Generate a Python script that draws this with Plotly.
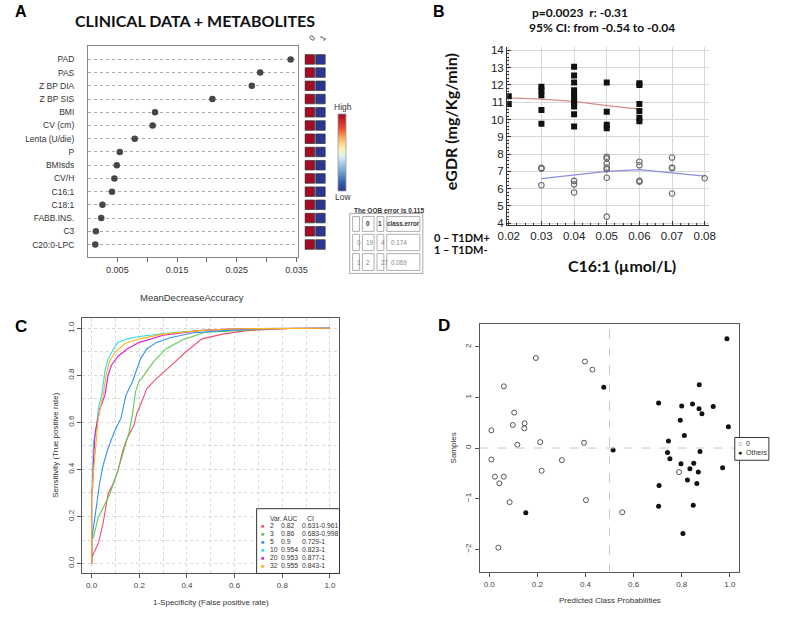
import plotly.graph_objects as go

W, H = 794, 617
def px(x): return x / W
def py(y): return 1 - y / H

# ---------------- Panel A data ----------------
features = ["PAD", "PAS", "Z BP DIA", "Z BP SIS", "BMI", "CV (cm)", "Lenta (U/die)", "P",
            "BMIsds", "CV/H", "C16:1", "C18:1", "FABB.INS.", "C3", "C20:0-LPC"]
mean_decrease_acc = [0.0340, 0.0289, 0.0275, 0.0209, 0.0113, 0.0109, 0.0079, 0.0054,
                     0.0049, 0.0045, 0.0041, 0.0025, 0.0023, 0.0014, 0.0013]
class_labels = ["0", "1"]
heat_class0 = [1, 1, 1, 1, 1, 1, 1, 1, 1, 1, 1, 1, 1, 1, 1]
heat_class1 = [0, 0, 0, 0, 0, 0, 0, 0, 0, 0, 0, 0, 0, 0, 0]
a_xticks = [0.005, 0.010, 0.015, 0.020, 0.025, 0.030, 0.035]
a_xticklabels = ["0.005", "", "0.015", "", "0.025", "", "0.035"]
oob_error = "0.115"
conf_header = ["", "0", "1", "class.error"]
conf_rows = [["0", "19", "4", "0.174"], ["1", "2", "27", "0.069"]]

# ---------------- Panel B data ----------------
sq_x = [0.02, 0.02,
        0.03, 0.03, 0.03, 0.03, 0.03,
        0.04, 0.04, 0.04, 0.04, 0.04, 0.04, 0.04, 0.04, 0.04, 0.04, 0.04,
        0.05, 0.05, 0.05, 0.05,
        0.06, 0.06, 0.06, 0.06, 0.06, 0.06]
sq_y = [11.35, 10.9,
        11.9, 11.7, 11.4, 10.55, 9.75,
        13.05, 12.55, 12.15, 11.7, 11.5, 11.3, 11.1, 10.95, 10.75, 10.3, 9.6,
        12.15, 10.45, 9.7, 9.5,
        12.1, 12.0, 10.9, 10.5, 10.1, 9.9]
ci_x = [0.03, 0.03, 0.03,
        0.04, 0.04, 0.04,
        0.05, 0.05, 0.05, 0.05, 0.05, 0.05, 0.05,
        0.06, 0.06, 0.06, 0.06,
        0.07, 0.07, 0.07, 0.07,
        0.08]
ci_y = [7.2, 7.15, 6.2,
        6.45, 6.25, 5.78,
        7.85, 7.75, 7.45, 7.22, 7.12, 6.63, 4.38,
        7.56, 7.35, 6.45, 6.4,
        7.8, 7.22, 7.18, 5.72,
        6.6]
red_fit_x = [0.02, 0.03, 0.04, 0.05, 0.06]
red_fit_y = [11.25, 11.18, 11.05, 10.8, 10.6]
blue_fit_x = [0.03, 0.04, 0.05, 0.06, 0.07, 0.08]
blue_fit_y = [6.58, 6.8, 7.0, 7.1, 6.9, 6.72]
b_xticks = [0.02, 0.03, 0.04, 0.05, 0.06, 0.07, 0.08]
b_yticks = [4, 5, 6, 7, 8, 9, 10, 11, 12, 13, 14]

# ---------------- Panel C data ----------------
roc_vars = ["2", "3", "5", "10", "20", "32"]
roc_auc = ["0.82", "0.86", "0.9", "0.954", "0.953", "0.955"]
roc_ci = ["0.631-0.961", "0.683-0.998", "0.729-1", "0.823-1", "0.877-1", "0.843-1"]
roc_colors = ["#F0506E", "#62C955", "#3090F0", "#30DCE8", "#D81CCF", "#FFB21E"]
roc_fpr = [
    [0, 0.0, 0.008, 0.028, 0.049, 0.069, 0.09, 0.11, 0.13, 0.144, 0.158, 0.178, 0.19, 0.205, 0.232, 0.273, 0.327, 0.395, 0.463, 0.55, 0.65, 0.75, 0.85, 1.0],
    [0, 0, 0.008, 0.022, 0.028, 0.05, 0.076, 0.11, 0.144, 0.158, 0.171, 0.184, 0.198, 0.219, 0.259, 0.313, 0.38, 0.476, 0.612, 0.75, 1.0],
    [0, 0, 0.004, 0.012, 0.022, 0.035, 0.049, 0.069, 0.096, 0.123, 0.144, 0.171, 0.184, 0.205, 0.232, 0.273, 0.33, 0.42, 0.55, 0.7, 1.0],
    [0, 0, 0.004, 0.008, 0.018, 0.028, 0.042, 0.056, 0.069, 0.09, 0.11, 0.15, 0.2, 0.3, 0.45, 0.6, 1.0],
    [0, 0, 0.004, 0.008, 0.015, 0.022, 0.035, 0.056, 0.069, 0.083, 0.11, 0.15, 0.2, 0.3, 0.45, 0.6, 1.0],
    [0, 0, 0.005, 0.012, 0.02, 0.028, 0.04, 0.049, 0.06, 0.075, 0.1, 0.14, 0.2, 0.3, 0.45, 0.6, 1.0],
]
roc_tpr = [
    [0, 0.02, 0.043, 0.086, 0.177, 0.296, 0.34, 0.394, 0.478, 0.52, 0.55, 0.59, 0.64, 0.674, 0.745, 0.787, 0.836, 0.899, 0.955, 0.975, 0.99, 0.995, 1.0, 1.0],
    [0, 0.10, 0.114, 0.17, 0.198, 0.24, 0.296, 0.394, 0.52, 0.562, 0.632, 0.73, 0.773, 0.80, 0.857, 0.913, 0.95, 0.983, 0.99, 0.998, 1.0],
    [0, 0.10, 0.128, 0.184, 0.268, 0.352, 0.422, 0.49, 0.562, 0.618, 0.716, 0.773, 0.81, 0.87, 0.913, 0.94, 0.96, 0.98, 0.99, 0.998, 1.0],
    [0, 0.28, 0.394, 0.52, 0.562, 0.66, 0.716, 0.82, 0.87, 0.91, 0.94, 0.955, 0.965, 0.978, 0.99, 0.998, 1.0],
    [0, 0.30, 0.32, 0.45, 0.56, 0.60, 0.66, 0.716, 0.80, 0.843, 0.88, 0.913, 0.94, 0.97, 0.99, 0.998, 1.0],
    [0, 0.28, 0.36, 0.45, 0.55, 0.62, 0.68, 0.716, 0.80, 0.86, 0.90, 0.935, 0.955, 0.975, 0.99, 0.998, 1.0],
]
c_ticks = [0.0, 0.2, 0.4, 0.6, 0.8, 1.0]
c_ticklabels = ["0.0", "0.2", "0.4", "0.6", "0.8", "1.0"]
c_minor = [0.1, 0.3, 0.5, 0.7, 0.9]

# ---------------- Panel D data ----------------
d_zero_x = [0.009, 0.061, 0.104, 0.098, 0.147, 0.146, 0.117, 0.194, 0.212, 0.398, 0.429, 0.394,
            0.009, 0.024, 0.061, 0.042, 0.085, 0.038, 0.218, 0.302, 0.402, 0.553, 0.789]
d_zero_y = [0.35, 1.22, 0.70, 0.455, 0.49, 0.39, 0.065, 1.78, 0.117, 1.71, 1.55, 0.104,
            -0.228, -0.566, -0.566, -0.697, -1.07, -1.97, -0.449, -0.24, -1.03, -1.27, -0.475]
d_other_x = [0.476, 0.988, 0.873, 0.704, 0.80, 0.845, 0.872, 0.884, 0.931, 0.794, 0.811, 0.994, 0.745,
             0.515, 0.741, 0.751, 0.797, 0.85, 0.834, 0.869, 0.876, 0.824, 0.863, 0.706, 0.970,
             0.704, 0.848, 0.152, 0.805]
d_other_y = [1.20, 2.16, 1.25, 0.89, 0.83, 0.87, 0.775, 0.68, 0.82, 0.55, 0.25, 0.42, 0.14,
             -0.04, -0.09, -0.21, -0.31, -0.30, -0.41, -0.475, -0.07, -0.63, -0.70, -0.74, -0.39,
             -1.15, -1.13, -1.28, -1.69]
d_xticks = [0.0, 0.2, 0.4, 0.6, 0.8, 1.0]
d_xticklabels = ["0.0", "0.2", "0.4", "0.6", "0.8", "1.0"]
d_yticks = [-2, -1, 0, 1, 2]

R_FONT = "Liberation Sans"
CAL = "Lato"

fig = go.Figure()

# ---- Panel A traces ----
fig.add_trace(go.Scatter(x=mean_decrease_acc, y=features, mode="markers",
                         marker=dict(size=6.5, color="#474747"),
                         xaxis="x", yaxis="y", showlegend=False, hoverinfo="skip"))
hx = [c for c in class_labels for _ in features]
hy = features + features
hz = heat_class0 + heat_class1
rdylbu = [[0.0, "#2B3594"], [0.12, "#3A62AE"], [0.28, "#7BB0D6"], [0.45, "#DCEEF5"],
          [0.55, "#FFF2B0"], [0.68, "#FDB462"], [0.82, "#E8492F"], [1.0, "#A50B27"]]
fig.add_trace(go.Scatter(x=hx, y=hy, mode="markers", xaxis="x2", yaxis="y2",
                         marker=dict(symbol="square", size=9.5, color=hz, colorscale=rdylbu,
                                     cmin=0, cmax=1, line=dict(color="#3a3a3a", width=0.8),
                                     showscale=True,
                                     colorbar=dict(x=px(336), xanchor="left", xpad=0, ypad=0,
                                                   y=py(151), yanchor="middle",
                                                   len=78 / H, lenmode="fraction", thickness=8,
                                                   outlinewidth=0.8, outlinecolor="#999",
                                                   showticklabels=False, ticks="")),
                         showlegend=False, hoverinfo="skip"))

# ---- Panel B traces ----
fig.add_trace(go.Scatter(x=red_fit_x, y=red_fit_y, mode="lines",
                         line=dict(color="#D88A8A", width=1.3), xaxis="x3", yaxis="y3",
                         showlegend=False, hoverinfo="skip"))
fig.add_trace(go.Scatter(x=blue_fit_x, y=blue_fit_y, mode="lines",
                         line=dict(color="#8C8CE0", width=1.3), xaxis="x3", yaxis="y3",
                         showlegend=False, hoverinfo="skip"))
fig.add_trace(go.Scatter(x=sq_x, y=sq_y, mode="markers",
                         marker=dict(symbol="square", size=6, color="#111"),
                         xaxis="x3", yaxis="y3", showlegend=False, hoverinfo="skip"))
fig.add_trace(go.Scatter(x=ci_x, y=ci_y, mode="markers",
                         marker=dict(symbol="circle-open", size=5.5, color="#666",
                                     line=dict(width=1.1)),
                         xaxis="x3", yaxis="y3", showlegend=False, hoverinfo="skip"))

# ---- Panel C traces ----
for fx, ty, col in zip(roc_fpr, roc_tpr, roc_colors):
    fig.add_trace(go.Scatter(x=fx, y=ty, mode="lines", line=dict(color=col, width=1.1),
                             xaxis="x4", yaxis="y4", showlegend=False, hoverinfo="skip"))

# ---- Panel D traces ----
fig.add_trace(go.Scatter(x=d_zero_x, y=d_zero_y, mode="markers",
                         marker=dict(symbol="circle-open", size=5, color="#555", line=dict(width=1)),
                         xaxis="x5", yaxis="y5", showlegend=False, hoverinfo="skip"))
fig.add_trace(go.Scatter(x=d_other_x, y=d_other_y, mode="markers",
                         marker=dict(symbol="circle", size=5, color="#111"),
                         xaxis="x5", yaxis="y5", showlegend=False, hoverinfo="skip"))

rtick = dict(size=8, color="#444", family=R_FONT)
cat_range = [-0.95, 15.05]
cat_order = features[::-1]

layout = dict(
    width=W, height=H, margin=dict(l=0, r=0, t=0, b=0),
    paper_bgcolor="white", plot_bgcolor="white", showlegend=False,
    # Panel A
    xaxis=dict(domain=[px(80), px(295)], range=[0.00008, 0.03516], anchor="y",
               showline=True, mirror=True, linecolor="#888", linewidth=1,
               ticks="outside", ticklen=4, tickcolor="#666",
               tickvals=a_xticks, ticktext=a_xticklabels, showgrid=False, zeroline=False,
               tickfont=dict(size=9, color="#333", family=R_FONT)),
    yaxis=dict(domain=[py(257), py(43)], range=cat_range, anchor="x", type="category",
               categoryorder="array", categoryarray=cat_order,
               showline=True, mirror=True, linecolor="#888", linewidth=1, ticks="",
               showgrid=True, gridcolor="#aaa", griddash="dot", gridwidth=0.8,
               ticklabelstandoff=11,
               tickfont=dict(size=8.5, color="#333", family=R_FONT)),
    xaxis2=dict(domain=[px(302), px(324)], range=[-0.5, 1.5], anchor="y2", type="category",
                categoryorder="array", categoryarray=class_labels,
                side="top", tickangle=-50, ticks="", showgrid=False, zeroline=False,
                showline=False, tickfont=dict(size=8, color="#333", family=R_FONT)),
    yaxis2=dict(domain=[py(257), py(43)], range=cat_range, anchor="x2", type="category",
                categoryorder="array", categoryarray=cat_order,
                showticklabels=False, showgrid=False, showline=False, ticks=""),
    # Panel B
    xaxis3=dict(domain=[px(510), px(717)], range=[0.0195, 0.0813], anchor="y3",
                showline=True, linecolor="#333", linewidth=1.3, mirror=False,
                tickvals=b_xticks, tickformat=".2f", ticks="inside", ticklen=4, tickcolor="#333",
                minor=dict(dtick=0.0025, tick0=0.02, ticks="inside", ticklen=2, tickcolor="#333",
                           showgrid=False),
                showgrid=True, gridcolor="#D6D6D6", gridwidth=1, zeroline=False,
                tickfont=dict(size=11.5, color="#222", family=R_FONT)),
    yaxis3=dict(domain=[py(225), py(45)], range=[3.87, 14.17], anchor="x3",
                showline=True, linecolor="#333", linewidth=1.3, mirror=False,
                tickvals=b_yticks, ticks="inside", ticklen=4, tickcolor="#333",
                minor=dict(dtick=0.2, tick0=4, ticks="inside", ticklen=2, tickcolor="#333",
                           showgrid=False),
                showgrid=True, gridcolor="#D6D6D6", gridwidth=1, zeroline=False,
                tickfont=dict(size=11.5, color="#222", family=R_FONT)),
    # Panel C
    xaxis4=dict(domain=[px(74), px(338)], range=[-0.04, 1.04], anchor="y4",
                showline=True, mirror=True, linecolor="#555", linewidth=1,
                ticks="outside", ticklen=4, tickcolor="#555",
                tickvals=c_ticks, ticktext=c_ticklabels, zeroline=False,
                showgrid=True, gridcolor="#D8D8D8", griddash="dot", gridwidth=1,
                minor=dict(tickvals=c_minor, showgrid=True, gridcolor="#D8D8D8", griddash="dot",
                           ticks=""),
                tickfont=rtick),
    yaxis4=dict(domain=[py(577), py(319)], range=[-0.042, 1.042], anchor="x4",
                showline=True, mirror=True, linecolor="#555", linewidth=1,
                ticks="outside", ticklen=4, tickcolor="#555", tickangle=-90,
                tickvals=c_ticks, ticktext=c_ticklabels, zeroline=False,
                showgrid=True, gridcolor="#D8D8D8", griddash="dot", gridwidth=1,
                minor=dict(tickvals=c_minor, showgrid=True, gridcolor="#D8D8D8", griddash="dot",
                           ticks=""),
                tickfont=rtick),
    # Panel D
    xaxis5=dict(domain=[px(481.7), px(748.3)], range=[-0.04, 1.04], anchor="y5",
                showline=True, mirror=True, linecolor="#555", linewidth=1,
                ticks="outside", ticklen=4, tickcolor="#555",
                tickvals=d_xticks, ticktext=d_xticklabels, showgrid=False, zeroline=False,
                tickfont=rtick),
    yaxis5=dict(domain=[py(576), py(324.3)], range=[-2.46, 2.46], anchor="x5",
                showline=True, mirror=True, linecolor="#555", linewidth=1,
                ticks="outside", ticklen=4, tickcolor="#555", tickangle=-90,
                tickvals=d_yticks, showgrid=False, zeroline=False,
                tickfont=rtick),
)
fig.update_layout(**layout)

# reference lines in panel D
fig.add_shape(type="line", xref="x5", yref="y5 domain", x0=0.5, x1=0.5, y0=0, y1=1,
              line=dict(color="#C8C8C8", width=1, dash="dash"))
fig.add_shape(type="line", xref="x5 domain", yref="y5", x0=0, x1=1, y0=0, y1=0,
              line=dict(color="#C8C8C8", width=1, dash="dash"))

ann = []
def A(x, y, text, size, color="#111", family=CAL, xanchor="center", yanchor="middle",
      angle=0):
    ann.append(dict(x=px(x), y=py(y), xref="paper", yref="paper", text=text, showarrow=False,
                    font=dict(size=size, color=color, family=family), xanchor=xanchor,
                    yanchor=yanchor, textangle=angle))

def rect(x0, y0, x1, y1, color="#999", width=1):
    fig.add_shape(type="rect", xref="paper", yref="paper", x0=px(x0), x1=px(x1),
                  y0=py(y1), y1=py(y0), line=dict(color=color, width=width),
                  fillcolor="rgba(0,0,0,0)", layer="above")

# panel letters
A(11, 9, "<b>A</b>", 16, "#000", "Liberation Sans")
A(440, 9, "<b>B</b>", 16, "#000", "Liberation Sans")
A(11, 327, "<b>C</b>", 17, "#000", "Liberation Sans")
A(445, 326, "<b>D</b>", 17, "#000", "Liberation Sans")

# Panel A texts
A(190, 18, "<b>CLINICAL DATA + METABOLITES</b>", 16, "#111")
A(187, 298, "MeanDecreaseAccuracy", 9.5, "#333", R_FONT)
A(342, 105, "High", 8.5, "#333", R_FONT)
A(342, 196, "Low", 8.5, "#333", R_FONT)
A(351, 210, "<b>The OOB error is %s</b>" % oob_error, 6.5, "#333", R_FONT, xanchor="left")

# confusion-matrix table (HTML-style double borders)
col_edges = [350, 360, 375, 385, 422]
row_edges = [214.5, 232.5, 252, 272]
rect(348.5, 213, 423.5, 273.5, "#aaa", 1)
for r in range(3):
    for c in range(4):
        rect(col_edges[c] + 1.5, row_edges[r] + 1.5, col_edges[c + 1] - 1.5,
             row_edges[r + 1] - 1.5, "#b0b0b0", 1)
for c in range(4):
    cx = (col_edges[c] + col_edges[c + 1]) / 2
    if conf_header[c]:
        A(cx, (row_edges[0] + row_edges[1]) / 2, "<b>%s</b>" % conf_header[c], 6.3, "#333",
          R_FONT)
for r, row in enumerate(conf_rows):
    cy = (row_edges[r + 1] + row_edges[r + 2]) / 2
    for c, val in enumerate(row):
        A(col_edges[c] + 3.5, cy, val, 6.3, "#888", R_FONT, xanchor="left")

# Panel B texts
A(585, 10, "<b>p=0.0023  r: -0.31</b>", 12, "#111")
A(607, 25, "<b>95% CI: from -0.54 to -0.04</b>", 12, "#111")
A(452, 120, "<b>eGDR (mg/Kg/min)</b>", 16, "#111", angle=-90)
A(628, 266, "<b>C16:1 (µmol/L)</b>", 16, "#111")
A(433, 237, "<b>0 – T1DM+</b>", 11, "#111", xanchor="left")
A(433, 249, "<b>1 – T1DM-</b>", 11, "#111", xanchor="left")

# Panel C texts
A(206, 606, "1-Specificity (False positive rate)", 8, "#333", R_FONT)
A(47, 447, "Sensitivity (True positive rate)", 8, "#333", R_FONT, angle=-90)
fig.add_shape(type="rect", xref="paper", yref="paper", x0=px(253), x1=px(338),
              y0=py(577), y1=py(511.5), line=dict(color="#333", width=1),
              fillcolor="white", layer="above")
A(265, 521, "Var. AUC", 6.8, "#333", R_FONT, xanchor="left")
A(303, 521, "CI", 6.8, "#333", R_FONT, xanchor="left")
row_y = [529, 537, 545, 553, 561, 569]
for yy, v, auc, ci, col in zip(row_y, roc_vars, roc_auc, roc_ci, roc_colors):
    A(259, yy, "■", 5.5, col, R_FONT)
    A(265, yy, v, 6.8, "#333", R_FONT, xanchor="left")
    A(276, yy, auc, 6.8, "#333", R_FONT, xanchor="left")
    A(298, yy, ci, 6.8, "#333", R_FONT, xanchor="left")

# Panel D texts
A(615, 604, "Predicted Class Probabilities", 8, "#333", R_FONT)
A(455, 450, "Samples", 8, "#333", R_FONT, angle=-90)
fig.add_shape(type="rect", xref="paper", yref="paper", x0=px(743.5), x1=px(778.5),
              y0=py(462.5), y1=py(439.5), line=dict(color="#333", width=1),
              fillcolor="white", layer="above")
A(749, 446, "○", 7, "#555", R_FONT)
A(753, 446, "0", 7, "#333", R_FONT, xanchor="left")
A(749, 455, "●", 7, "#111", R_FONT)
A(753, 455, "Others", 7, "#333", R_FONT, xanchor="left")

fig.update_layout(annotations=ann)
fig.write_html("out.html")
